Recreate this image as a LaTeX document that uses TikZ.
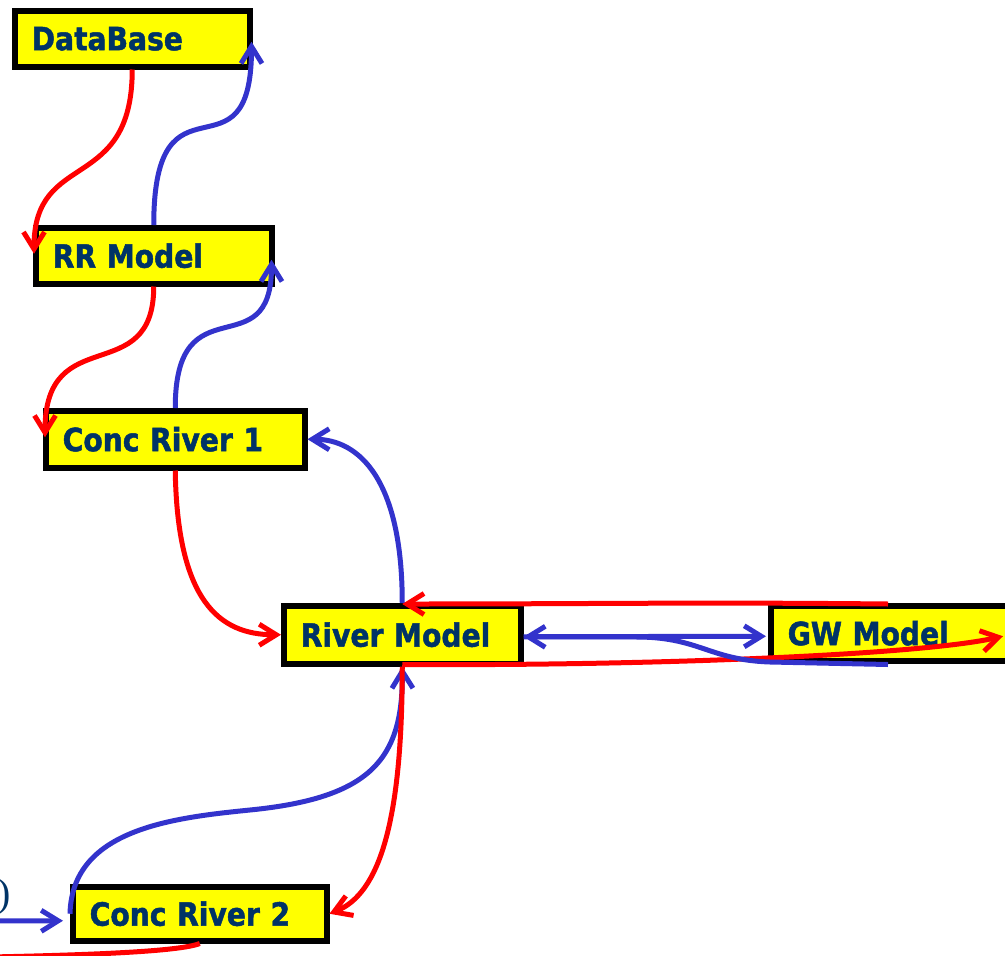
\documentclass[tikz,border=0pt]{standalone}
\usepackage{fontspec}
\setmainfont{Liberation Sans}
\newfontfamily\boxfont[FakeStretch=0.88,FakeBold=1.5]{DejaVu Sans Bold}
\newfontfamily\serifparen{Liberation Serif}
\usetikzlibrary{arrows.meta,calc}
\definecolor{boxyellow}{RGB}{255,255,0}
\definecolor{txtnavy}{RGB}{0,51,102}
\definecolor{linkblue}{RGB}{51,51,204}
\definecolor{linkred}{RGB}{255,0,0}
\begin{document}
\begin{tikzpicture}[x=1pt,y=-1pt,
  model/.style={draw=black, line width=5.5pt, fill=boxyellow, anchor=north west,
    inner xsep=17pt, inner ysep=0pt, align=left, text=txtnavy,
    font=\boxfont\fontsize{32}{38}\selectfont},
  link/.style={line width=5pt, >={Straight Barb[length=17pt,width=21pt]}},
  redlink/.style={link, draw=linkred},
  bluelink/.style={link, draw=linkblue}]
\useasboundingbox (0,0) rectangle (1005,956);
\clip (0,0) rectangle (1005,956);

\node[model, minimum width=235pt, text width=201pt, minimum height=56pt] (db) at (12,8) {DataBase};
\node[model, minimum width=236pt, text width=202pt, minimum height=56pt] (rr) at (33,225) {RR Model};
\node[model, minimum width=259pt, text width=225pt, minimum height=57pt] (cr1) at (43,408) {Conc River 1};
\node[model, minimum width=237pt, text width=203pt, minimum height=58pt] (rm) at (281,603) {River Model};
\node[model, minimum width=256pt, text width=222pt, minimum height=55pt] (gw) at (768,603) {GW Model};
\node[model, minimum width=254pt, text width=220pt, minimum height=54pt] (cr2) at (70,884) {Conc River 2};

\node[text=txtnavy, font=\serifparen\fontsize{40}{44}\selectfont, anchor=east, inner sep=0pt] (paren) at (11,897) {)};

\coordinate (leftin) at (-10,921);
\coordinate (leftout) at (-10,957);

% DataBase <-> RR Model
\draw[redlink,->] (db.south) .. controls +(0,125) and +(0,-105) .. ($(rr.west)+(1,-2)$);
\draw[bluelink,->] (rr.north) .. controls +(0,-165) and +(0,148) .. ($(db.east)+(-1,3)$);
% RR Model <-> Conc River 1
\draw[redlink,->] (rr.south) .. controls +(0,103) and +(0,-117) .. ($(cr1.west)+(2,-2)$);
\draw[bluelink,->] (cr1.north) .. controls +(0,-128) and +(0,110) .. ($(rr.east)+(-3,4)$);
% Conc River 1 <-> River Model
\draw[redlink,->] (cr1.south) .. controls +(2,130) and +(-62,0) .. (rm.west);
\draw[bluelink,->] (rm.north) .. controls +(0,-123) and +(52,0) .. (cr1.east);
% River Model <-> GW Model
\draw[redlink,->] ($(gw.north west)+(120,1)$) .. controls +(-200,-2) and +(200,0) .. ($(rm.north)+(0,1)$);
\draw[redlink,->] ($(rm.south)+(0,-2)$) .. controls (650,666) and (920,655) .. ($(gw.west)+(235,3)$);
\draw[bluelink,->] ($(gw.south west)+(120,1)$) -- (770,662) .. controls (710,660) and (700,638) .. (640,637) -- ($(rm.east)+(0,2)$);
\draw[bluelink,->] ($(rm.east)+(0,2)$) -- ($(gw.west)+(-2,3)$);
% River Model <-> Conc River 2
\draw[bluelink,->] (cr2.west) .. controls (72,830) and (170,818) .. (250,810) .. controls (370,798) and (403,760) .. (rm.south);
\draw[redlink,->] (rm.south) .. controls +(0,155) and +(50,-20) .. (cr2.east);
% left edge links
\draw[bluelink,->] (leftin) -- ($(cr2.west)+(-7,7)$);
\draw[redlink] (cr2.south) .. controls +(-20,8) and +(100,-2) .. (leftout);
\end{tikzpicture}
\end{document}
